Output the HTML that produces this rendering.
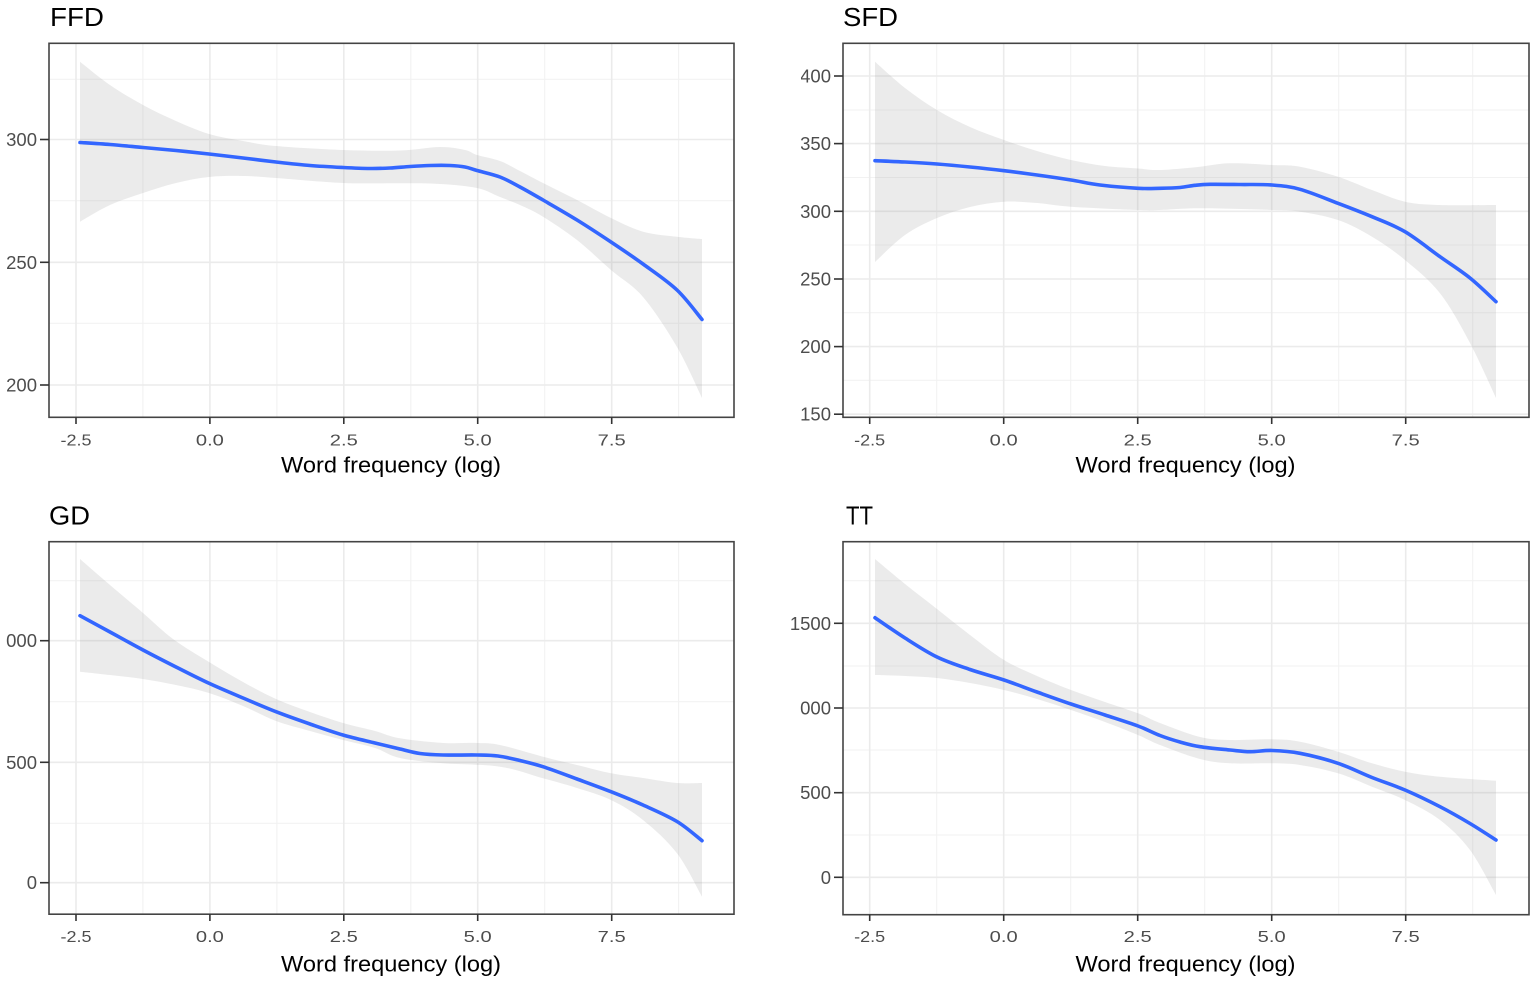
<!DOCTYPE html>
<html>
<head>
<meta charset="utf-8">
<style>
html,body{margin:0;padding:0;background:#fff;}
svg{display:block;}
text{font-family:"Liberation Sans",Arial,sans-serif;}
.yl{font-size:18.5px;fill:#4d4d4d;text-anchor:end;}
.xl{font-size:16px;fill:#4d4d4d;text-anchor:middle;}
.at{font-size:22.5px;fill:#000;text-anchor:middle;}
.tt{font-size:26px;fill:#000;}
.gmaj{stroke:#ebebeb;stroke-width:1.6;}
.gmin{stroke:#f2f2f2;stroke-width:1.1;}
.tk{stroke:#333;stroke-width:1.6;}
.rib{fill:#999;fill-opacity:0.2;stroke:none;}
.ln{fill:none;stroke:#3366FF;stroke-width:3.6;stroke-linejoin:round;stroke-linecap:round;}
.bd{fill:none;stroke:#444;stroke-width:1.6;}
</style>
</head>
<body>
<svg id="fig" width="1535" height="983" viewBox="0 0 1535 983" xmlns="http://www.w3.org/2000/svg">
<defs>
<clipPath id="sfdclip"><rect x="801" y="0" width="60" height="430"/></clipPath>
</defs>
<rect width="1535" height="983" fill="#fff"/>

<!-- ================= Panel A: FFD ================= -->
<g>
<rect x="49" y="43.3" width="685" height="374" fill="#fff"/>
<g class="gmin">
<line x1="49" x2="734" y1="79.3" y2="79.3"/>
<line x1="49" x2="734" y1="200.7" y2="200.7"/>
<line x1="49" x2="734" y1="323.3" y2="323.3"/>
<line x1="142.9" x2="142.9" y1="43.3" y2="417.3"/>
<line x1="276.9" x2="276.9" y1="43.3" y2="417.3"/>
<line x1="410.8" x2="410.8" y1="43.3" y2="417.3"/>
<line x1="544.7" x2="544.7" y1="43.3" y2="417.3"/>
<line x1="678.6" x2="678.6" y1="43.3" y2="417.3"/>
</g>
<g class="gmaj">
<line x1="49" x2="734" y1="139.5" y2="139.5"/>
<line x1="49" x2="734" y1="262.3" y2="262.3"/>
<line x1="49" x2="734" y1="385" y2="385"/>
<line x1="76" x2="76" y1="43.3" y2="417.3"/>
<line x1="209.9" x2="209.9" y1="43.3" y2="417.3"/>
<line x1="343.8" x2="343.8" y1="43.3" y2="417.3"/>
<line x1="477.7" x2="477.7" y1="43.3" y2="417.3"/>
<line x1="611.7" x2="611.7" y1="43.3" y2="417.3"/>
</g>
<polygon class="rib" points="80,61.7 110,85 143,105 176,121 209,134 243,141 276,146 343,150 400,150.5 440,147 465,150 477,155 500,161 520,171 543,183 577,200 611,218 643,231.7 677,236.7 702,239 702,398 677,347 643,297 611,270 577,240 543,216.7 520,205 500,197 477,188 440,184 400,183.3 343,183 276,178 243,176 209,177 176,183 143,193 110,205 80,221.7"/>
<polyline class="ln" points="80,142.5 110,144.5 143,147.5 176,150.5 209,154 243,158 276,162 310,165.5 343,167.5 370,168.5 390,168 410,166.5 430,165.5 450,165.5 465,167 477,170.5 500,177 520,187 543,200 577,220 611,242 643,264 677,290 702,319.5"/>
<rect class="bd" x="49" y="43.3" width="685" height="374"/>
<g class="tk">
<line x1="40" x2="49" y1="139.5" y2="139.5"/>
<line x1="40" x2="49" y1="262.3" y2="262.3"/>
<line x1="40" x2="49" y1="385" y2="385"/>
<line x1="76" x2="76" y1="417.3" y2="424"/>
<line x1="209.9" x2="209.9" y1="417.3" y2="424"/>
<line x1="343.8" x2="343.8" y1="417.3" y2="424"/>
<line x1="477.7" x2="477.7" y1="417.3" y2="424"/>
<line x1="611.7" x2="611.7" y1="417.3" y2="424"/>
</g>
<text class="yl" x="37" y="146">300</text>
<text class="yl" x="37" y="268.8">250</text>
<text class="yl" x="37" y="391.5">200</text>
<text class="xl" x="76" y="445.5" textLength="31" lengthAdjust="spacingAndGlyphs">-2.5</text>
<text class="xl" x="209.9" y="445.5" textLength="28" lengthAdjust="spacingAndGlyphs">0.0</text>
<text class="xl" x="343.8" y="445.5" textLength="28" lengthAdjust="spacingAndGlyphs">2.5</text>
<text class="xl" x="477.7" y="445.5" textLength="28" lengthAdjust="spacingAndGlyphs">5.0</text>
<text class="xl" x="611.7" y="445.5" textLength="28" lengthAdjust="spacingAndGlyphs">7.5</text>
<text class="at" x="391" y="472.5" textLength="220" lengthAdjust="spacingAndGlyphs">Word frequency (log)</text>
<text class="tt" x="50" y="26" textLength="54" lengthAdjust="spacingAndGlyphs">FFD</text>
</g>

<!-- ================= Panel B: SFD ================= -->
<g>
<rect x="843" y="43.3" width="686" height="374" fill="#fff"/>
<g class="gmin">
<line x1="843" x2="1529" y1="110" y2="110"/>
<line x1="843" x2="1529" y1="177.5" y2="177.5"/>
<line x1="843" x2="1529" y1="245" y2="245"/>
<line x1="843" x2="1529" y1="312.7" y2="312.7"/>
<line x1="843" x2="1529" y1="380.3" y2="380.3"/>
<line x1="936.7" x2="936.7" y1="43.3" y2="417.3"/>
<line x1="1070.7" x2="1070.7" y1="43.3" y2="417.3"/>
<line x1="1204.7" x2="1204.7" y1="43.3" y2="417.3"/>
<line x1="1338.7" x2="1338.7" y1="43.3" y2="417.3"/>
<line x1="1472.7" x2="1472.7" y1="43.3" y2="417.3"/>
</g>
<g class="gmaj">
<line x1="843" x2="1529" y1="76" y2="76"/>
<line x1="843" x2="1529" y1="143.6" y2="143.6"/>
<line x1="843" x2="1529" y1="211.3" y2="211.3"/>
<line x1="843" x2="1529" y1="279" y2="279"/>
<line x1="843" x2="1529" y1="346.6" y2="346.6"/>
<line x1="843" x2="1529" y1="414.2" y2="414.2"/>
<line x1="869.7" x2="869.7" y1="43.3" y2="417.3"/>
<line x1="1003.7" x2="1003.7" y1="43.3" y2="417.3"/>
<line x1="1137.7" x2="1137.7" y1="43.3" y2="417.3"/>
<line x1="1271.7" x2="1271.7" y1="43.3" y2="417.3"/>
<line x1="1405.7" x2="1405.7" y1="43.3" y2="417.3"/>
</g>
<polygon class="rib" points="875,61.7 905,88 937,110 970,127 1004,140 1037,151 1071,160 1105,166 1138,168.5 1160,170 1200,166.7 1230,163.3 1272,165 1300,166.7 1338,176.7 1372,190 1405,201.7 1440,205 1496,205 1496,398 1470,343 1440,293.3 1405,260 1372,236.7 1338,220 1300,211.7 1272,210 1200,208.3 1160,210 1138,210 1071,206.7 1037,203 1004,201.7 970,207 937,218 905,235 875,262"/>
<polyline class="ln" points="875,160.7 905,162 937,164 970,167 1004,170.7 1037,175 1071,180 1100,185 1138,188.3 1160,188.3 1180,187.5 1195,185.3 1210,184.3 1240,184.5 1272,185 1300,189.3 1338,203.3 1372,216.7 1405,231.7 1440,256.7 1470,278 1496,301.7"/>
<rect class="bd" x="843" y="43.3" width="686" height="374"/>
<g class="tk">
<line x1="834" x2="843" y1="76" y2="76"/>
<line x1="834" x2="843" y1="143.6" y2="143.6"/>
<line x1="834" x2="843" y1="211.3" y2="211.3"/>
<line x1="834" x2="843" y1="279" y2="279"/>
<line x1="834" x2="843" y1="346.6" y2="346.6"/>
<line x1="834" x2="843" y1="414.2" y2="414.2"/>
<line x1="869.7" x2="869.7" y1="417.3" y2="424"/>
<line x1="1003.7" x2="1003.7" y1="417.3" y2="424"/>
<line x1="1137.7" x2="1137.7" y1="417.3" y2="424"/>
<line x1="1271.7" x2="1271.7" y1="417.3" y2="424"/>
<line x1="1405.7" x2="1405.7" y1="417.3" y2="424"/>
</g>
<g clip-path="url(#sfdclip)">
<text class="yl" x="831" y="82.5">400</text>
<text class="yl" x="831" y="150.1">350</text>
</g>
<text class="yl" x="831" y="217.8">300</text>
<text class="yl" x="831" y="285.5">250</text>
<text class="yl" x="831" y="353.1">200</text>
<text class="yl" x="831" y="420.7">150</text>
<text class="xl" x="869.7" y="445.5" textLength="31" lengthAdjust="spacingAndGlyphs">-2.5</text>
<text class="xl" x="1003.7" y="445.5" textLength="28" lengthAdjust="spacingAndGlyphs">0.0</text>
<text class="xl" x="1137.7" y="445.5" textLength="28" lengthAdjust="spacingAndGlyphs">2.5</text>
<text class="xl" x="1271.7" y="445.5" textLength="28" lengthAdjust="spacingAndGlyphs">5.0</text>
<text class="xl" x="1405.7" y="445.5" textLength="28" lengthAdjust="spacingAndGlyphs">7.5</text>
<text class="at" x="1185.5" y="472.5" textLength="220" lengthAdjust="spacingAndGlyphs">Word frequency (log)</text>
<text class="tt" x="843" y="26" textLength="55" lengthAdjust="spacingAndGlyphs">SFD</text>
</g>

<!-- ================= Panel C: GD ================= -->
<g>
<rect x="49" y="541.7" width="685" height="372.5" fill="#fff"/>
<g class="gmin">
<line x1="49" x2="734" y1="580.7" y2="580.7"/>
<line x1="49" x2="734" y1="701.7" y2="701.7"/>
<line x1="49" x2="734" y1="823.3" y2="823.3"/>
<line x1="142.9" x2="142.9" y1="541.7" y2="914.2"/>
<line x1="276.9" x2="276.9" y1="541.7" y2="914.2"/>
<line x1="410.8" x2="410.8" y1="541.7" y2="914.2"/>
<line x1="544.7" x2="544.7" y1="541.7" y2="914.2"/>
<line x1="678.6" x2="678.6" y1="541.7" y2="914.2"/>
</g>
<g class="gmaj">
<line x1="49" x2="734" y1="640.7" y2="640.7"/>
<line x1="49" x2="734" y1="762.3" y2="762.3"/>
<line x1="49" x2="734" y1="882.7" y2="882.7"/>
<line x1="76" x2="76" y1="541.7" y2="914.2"/>
<line x1="209.9" x2="209.9" y1="541.7" y2="914.2"/>
<line x1="343.8" x2="343.8" y1="541.7" y2="914.2"/>
<line x1="477.7" x2="477.7" y1="541.7" y2="914.2"/>
<line x1="611.7" x2="611.7" y1="541.7" y2="914.2"/>
</g>
<polygon class="rib" points="80,559 110,585 143,613 173,639 209,662 243,682 276,699 310,712 343,723 375,731 400,738.3 443,743 477,743 500,745 543,756.7 577,765 611,773.3 643,778 677,783 702,783 702,896.7 677,853.3 643,820 611,800 577,788 543,778.3 500,766.7 443,763.3 400,758 375,748 343,740 310,731 276,721 243,706 209,693 176,685 143,679 110,675 80,671.7"/>
<polyline class="ln" points="80,615.7 110,632 143,650 176,667 209,683.3 243,698 276,711.7 310,724 343,735 375,743 400,749 420,753.5 443,755 477,755 498,756 520,760.5 543,766.7 577,779 611,791.7 643,805 677,821.5 702,840.7"/>
<rect class="bd" x="49" y="541.7" width="685" height="372.5"/>
<g class="tk">
<line x1="40" x2="49" y1="640.7" y2="640.7"/>
<line x1="40" x2="49" y1="762.3" y2="762.3"/>
<line x1="40" x2="49" y1="882.7" y2="882.7"/>
<line x1="76" x2="76" y1="914.2" y2="921"/>
<line x1="209.9" x2="209.9" y1="914.2" y2="921"/>
<line x1="343.8" x2="343.8" y1="914.2" y2="921"/>
<line x1="477.7" x2="477.7" y1="914.2" y2="921"/>
<line x1="611.7" x2="611.7" y1="914.2" y2="921"/>
</g>
<text class="yl" x="37" y="647.2">000</text>
<text class="yl" x="37" y="768.8">500</text>
<text class="yl" x="37" y="889.2">0</text>
<text class="xl" x="76" y="942" textLength="31" lengthAdjust="spacingAndGlyphs">-2.5</text>
<text class="xl" x="209.9" y="942" textLength="28" lengthAdjust="spacingAndGlyphs">0.0</text>
<text class="xl" x="343.8" y="942" textLength="28" lengthAdjust="spacingAndGlyphs">2.5</text>
<text class="xl" x="477.7" y="942" textLength="28" lengthAdjust="spacingAndGlyphs">5.0</text>
<text class="xl" x="611.7" y="942" textLength="28" lengthAdjust="spacingAndGlyphs">7.5</text>
<text class="at" x="391" y="971.5" textLength="220" lengthAdjust="spacingAndGlyphs">Word frequency (log)</text>
<text class="tt" x="49" y="524.3" textLength="41" lengthAdjust="spacingAndGlyphs">GD</text>
</g>

<!-- ================= Panel D: TT ================= -->
<g>
<rect x="843" y="541.7" width="686" height="373" fill="#fff"/>
<g class="gmin">
<line x1="843" x2="1529" y1="580.7" y2="580.7"/>
<line x1="843" x2="1529" y1="666" y2="666"/>
<line x1="843" x2="1529" y1="750" y2="750"/>
<line x1="843" x2="1529" y1="835" y2="835"/>
<line x1="936.7" x2="936.7" y1="541.7" y2="914.7"/>
<line x1="1070.7" x2="1070.7" y1="541.7" y2="914.7"/>
<line x1="1204.7" x2="1204.7" y1="541.7" y2="914.7"/>
<line x1="1338.7" x2="1338.7" y1="541.7" y2="914.7"/>
<line x1="1472.7" x2="1472.7" y1="541.7" y2="914.7"/>
</g>
<g class="gmaj">
<line x1="843" x2="1529" y1="623.3" y2="623.3"/>
<line x1="843" x2="1529" y1="708" y2="708"/>
<line x1="843" x2="1529" y1="792.7" y2="792.7"/>
<line x1="843" x2="1529" y1="877.3" y2="877.3"/>
<line x1="869.7" x2="869.7" y1="541.7" y2="914.7"/>
<line x1="1003.7" x2="1003.7" y1="541.7" y2="914.7"/>
<line x1="1137.7" x2="1137.7" y1="541.7" y2="914.7"/>
<line x1="1271.7" x2="1271.7" y1="541.7" y2="914.7"/>
<line x1="1405.7" x2="1405.7" y1="541.7" y2="914.7"/>
</g>
<polygon class="rib" points="875,559 905,584 937,609 970,635 1004,660 1037,676 1071,690 1105,702 1138,713.3 1160,723 1200,737 1230,740 1272,739.3 1300,741.7 1338,751.7 1372,763.3 1405,771.7 1440,776.7 1496,780.7 1496,895 1470,850 1440,820 1405,800 1372,786.7 1338,773.3 1300,765 1272,763.3 1230,763.3 1200,759 1160,745 1138,735 1105,722 1071,710 1037,699 1004,690 970,683 937,678 905,676 875,675"/>
<polyline class="ln" points="875,617.7 905,638 937,657 970,669.5 1004,680 1037,692 1071,704 1105,715 1138,726 1160,735.5 1180,742 1200,746.7 1230,750 1250,751.7 1272,750.5 1300,753.3 1338,763.3 1372,777.5 1405,790 1440,806.7 1470,823.5 1496,840"/>
<rect class="bd" x="843" y="541.7" width="686" height="373"/>
<g class="tk">
<line x1="834" x2="843" y1="623.3" y2="623.3"/>
<line x1="834" x2="843" y1="708" y2="708"/>
<line x1="834" x2="843" y1="792.7" y2="792.7"/>
<line x1="834" x2="843" y1="877.3" y2="877.3"/>
<line x1="869.7" x2="869.7" y1="914.7" y2="921"/>
<line x1="1003.7" x2="1003.7" y1="914.7" y2="921"/>
<line x1="1137.7" x2="1137.7" y1="914.7" y2="921"/>
<line x1="1271.7" x2="1271.7" y1="914.7" y2="921"/>
<line x1="1405.7" x2="1405.7" y1="914.7" y2="921"/>
</g>
<text class="yl" x="831" y="629.8">1500</text>
<text class="yl" x="831" y="714.5">000</text>
<text class="yl" x="831" y="799.2">500</text>
<text class="yl" x="831" y="883.8">0</text>
<text class="xl" x="869.7" y="942" textLength="31" lengthAdjust="spacingAndGlyphs">-2.5</text>
<text class="xl" x="1003.7" y="942" textLength="28" lengthAdjust="spacingAndGlyphs">0.0</text>
<text class="xl" x="1137.7" y="942" textLength="28" lengthAdjust="spacingAndGlyphs">2.5</text>
<text class="xl" x="1271.7" y="942" textLength="28" lengthAdjust="spacingAndGlyphs">5.0</text>
<text class="xl" x="1405.7" y="942" textLength="28" lengthAdjust="spacingAndGlyphs">7.5</text>
<text class="at" x="1185.5" y="971.5" textLength="220" lengthAdjust="spacingAndGlyphs">Word frequency (log)</text>
<text class="tt" x="846" y="524.3" textLength="27" lengthAdjust="spacingAndGlyphs">TT</text>
</g>
</svg>
<script>
(function(){
  var NS="http://www.w3.org/2000/svg";
  function parse(s){return s.trim().split(/\s+/).map(function(p){var a=p.split(',');return [parseFloat(a[0]),parseFloat(a[1])];});}
  function f(n){return n.toFixed(2);}
  function segs(p){
    var d='';
    for(var i=0;i<p.length-1;i++){
      var p0=p[i-1]||p[i],p1=p[i],p2=p[i+1],p3=p[i+2]||p[i+1];
      var c1x=p1[0]+(p2[0]-p0[0])/6,c1y=p1[1]+(p2[1]-p0[1])/6;
      var c2x=p2[0]-(p3[0]-p1[0])/6,c2y=p2[1]-(p3[1]-p1[1])/6;
      d+=' C'+f(c1x)+','+f(c1y)+' '+f(c2x)+','+f(c2y)+' '+f(p2[0])+','+f(p2[1]);
    }
    return d;
  }
  var lines=document.querySelectorAll('polyline.ln');
  for(var i=0;i<lines.length;i++){
    var el=lines[i],p=parse(el.getAttribute('points'));
    var path=document.createElementNS(NS,'path');
    path.setAttribute('class','ln');
    path.setAttribute('d','M'+f(p[0][0])+','+f(p[0][1])+segs(p));
    el.parentNode.replaceChild(path,el);
  }
  var ribs=document.querySelectorAll('polygon.rib');
  for(var j=0;j<ribs.length;j++){
    var el2=ribs[j],q=parse(el2.getAttribute('points'));
    var mx=-1e9,k=0;
    for(var t=0;t<q.length;t++){if(q[t][0]>mx){mx=q[t][0];k=t;}}
    var up=q.slice(0,k+1),lo=q.slice(k+1);
    var d='M'+f(up[0][0])+','+f(up[0][1])+segs(up)+' L'+f(lo[0][0])+','+f(lo[0][1])+segs(lo)+' Z';
    var path2=document.createElementNS(NS,'path');
    path2.setAttribute('class','rib');
    path2.setAttribute('d',d);
    el2.parentNode.replaceChild(path2,el2);
  }
})();
</script>
</body>
</html>
